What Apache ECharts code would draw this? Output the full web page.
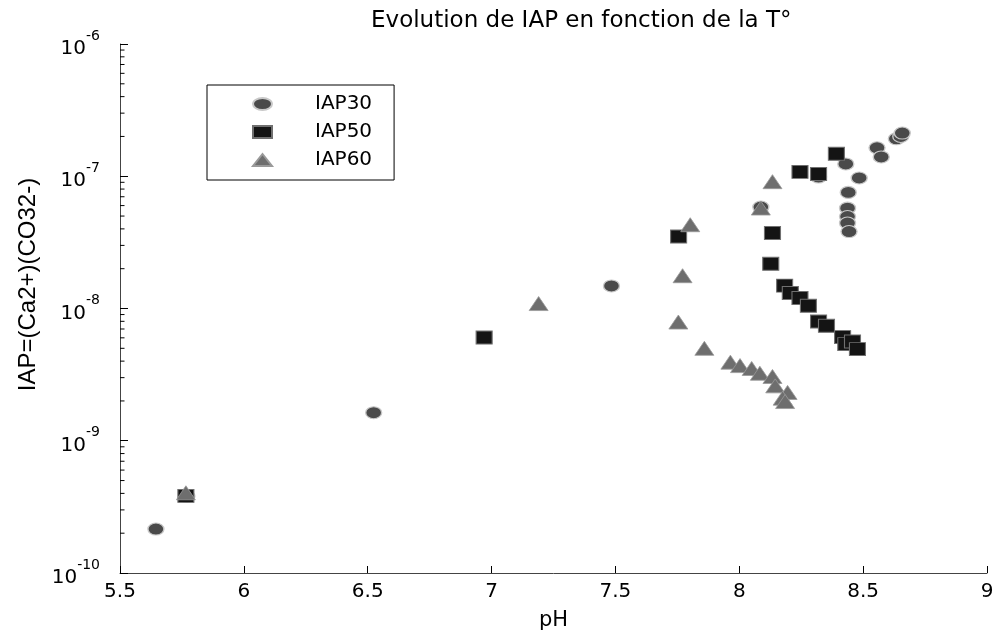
<!DOCTYPE html>
<html>
<head>
<meta charset="utf-8">
<script src="https://cdn.jsdelivr.net/npm/echarts@6/dist/echarts.min.js"></script>
<style>
html,body{margin:0;padding:0;background:#fff;}
#chart{width:997px;height:637px;}
</style>
</head>
<body>
<div id="chart"></div>
<script>
// ---- Data (pH, IAP) ----
const iap30 = [
  [5.645, 2.15e-10], [5.77, 3.8e-10], [6.524, 1.63e-9], [7.484, 1.48e-8],
  [8.087, 5.85e-8], [8.32, 9.86e-8], [8.43, 1.24e-7], [8.484, 9.7e-8],
  [8.44, 7.55e-8], [8.437, 5.74e-8], [8.437, 4.96e-8], [8.437, 4.43e-8],
  [8.443, 3.82e-8], [8.556, 1.64e-7], [8.573, 1.40e-7], [8.634, 1.92e-7],
  [8.652, 2.0e-7], [8.658, 2.12e-7]
];
const iap50 = [
  [5.766, 3.83e-10], [6.97, 6.03e-9], [7.755, 3.5e-8], [8.134, 3.72e-8],
  [8.127, 2.18e-8], [8.245, 1.08e-7], [8.32, 1.04e-7], [8.392, 1.48e-7],
  [8.183, 1.49e-8], [8.206, 1.31e-8], [8.245, 1.2e-8], [8.279, 1.05e-8],
  [8.32, 7.97e-9], [8.352, 7.4e-9], [8.417, 6.08e-9], [8.430, 5.38e-9],
  [8.457, 5.63e-9], [8.477, 4.93e-9]
];
const iap60 = [
  [5.766, 4.04e-10], [7.19, 1.09e-8], [7.802, 4.3e-8], [7.771, 1.77e-8],
  [7.754, 7.9e-9], [7.859, 5.0e-9], [8.134, 9.1e-8], [8.087, 5.75e-8],
  [7.964, 3.93e-9], [8.003, 3.7e-9], [8.05, 3.52e-9], [8.083, 3.24e-9],
  [8.134, 3.06e-9], [8.145, 2.6e-9], [8.195, 2.32e-9], [8.175, 2.1e-9],
  [8.185, 1.98e-9]
];
const seriesNames = ['IAP30', 'IAP50', 'IAP60'];
const titleText = 'Evolution de IAP en fonction de la T°';
const xName = 'pH';
const yName = 'IAP=(Ca2+)(CO32-)';
const xMin = 5.5, xMax = 9, xStep = 0.5;
const yMin = 1e-10, yMax = 1e-6;

// minor tick positions for the log axis (2..9 x each decade)
const minorTicks = [];
for (let e = -10; e < -6; e++) {
  for (let k = 2; k <= 9; k++) minorTicks.push([xMin, k * Math.pow(10, e)]);
}

const FONT = 'DejaVu Sans';
const ELLIPSE = 'path://M0 6A9.5 6 0 1 0 19 6A9.5 6 0 1 0 0 6Z';
const chart = echarts.init(document.getElementById('chart'), null, {renderer: 'canvas'});
chart.setOption({
  backgroundColor: '#fff',
  animation: false,
  title: {
    text: titleText,
    left: 366,
    top: 5,
    textStyle: {fontFamily: FONT, fontSize: 23, fontWeight: 'normal', color: '#000'}
  },
  grid: {left: 120, right: 10, top: 44, bottom: 64},
  legend: {
    data: [
      {name: seriesNames[0], icon: ELLIPSE},
      {name: seriesNames[1], icon: 'rect'},
      {name: seriesNames[2], icon: 'triangle'}
    ],
    orient: 'vertical',
    left: 207,
    top: 85,
    padding: [9, 22, 10, 45],
    itemWidth: 19,
    itemHeight: 12,
    itemGap: 8,
    borderColor: '#000',
    borderWidth: 1,
    textStyle: {fontFamily: FONT, fontSize: 20, color: '#000', padding: [0, 0, 0, 38]}
  },
  xAxis: {
    type: 'value',
    min: xMin, max: xMax, interval: xStep,
    name: xName,
    nameLocation: 'middle',
    nameGap: 37,
    nameTextStyle: {fontFamily: FONT, fontSize: 21, color: '#000'},
    axisLine: {lineStyle: {color: '#444', width: 1}},
    axisTick: {inside: true, length: 7, lineStyle: {color: '#000'}},
    axisLabel: {fontFamily: FONT, fontSize: 20, color: '#000', margin: 9,
      formatter: v => String(v)},
    splitLine: {show: false}
  },
  yAxis: {
    type: 'log',
    logBase: 10,
    min: yMin, max: yMax,
    name: yName,
    nameLocation: 'middle',
    nameGap: 79,
    nameRotate: 90,
    nameTextStyle: {fontFamily: 'Liberation Sans', fontSize: 24, color: '#000', padding: [0, 0, 0, 48]},
    axisLine: {show: true, lineStyle: {color: '#444', width: 1}},
    axisTick: {show: true, inside: true, length: 8, lineStyle: {color: '#000'}},
    axisLabel: {
      margin: 20,
      formatter: v => {
        const e = Math.round(Math.log10(v));
        return '{b|10}{s|' + e + '}';
      },
      rich: {
        b: {fontFamily: FONT, fontSize: 20, color: '#000', lineHeight: 30, verticalAlign: 'bottom'},
        s: {fontFamily: FONT, fontSize: 14, color: '#000', lineHeight: 30, verticalAlign: 'top'}
      }
    },
    splitLine: {show: false}
  },
  series: [
    {
      name: 'minor', type: 'custom', silent: true, clip: false,
      data: minorTicks,
      renderItem: (params, api) => {
        const p = api.coord([api.value(0), api.value(1)]);
        return {type: 'line', shape: {x1: p[0], y1: p[1], x2: p[0] + 4.5, y2: p[1]},
          style: {stroke: '#000', lineWidth: 1}};
      },
      z: 1
    },
    {
      name: 'IAP30', type: 'scatter', data: iap30, symbol: 'circle', symbolSize: [16, 12],
      itemStyle: {color: '#4a4a4a', borderColor: '#c8c8c8', borderWidth: 1.2, opacity: 1}
    },
    {
      name: 'IAP50', type: 'scatter', data: iap50, symbol: 'rect', symbolSize: [16, 13],
      itemStyle: {color: '#141414', borderColor: '#707070', borderWidth: 1, opacity: 1}
    },
    {
      name: 'IAP60', type: 'scatter', data: iap60, symbol: 'triangle', symbolSize: [19, 14],
      itemStyle: {color: '#6e6e6e', borderColor: '#9a9a9a', borderWidth: 0.8, opacity: 1}
    }
  ]
});
</script>
</body>
</html>
